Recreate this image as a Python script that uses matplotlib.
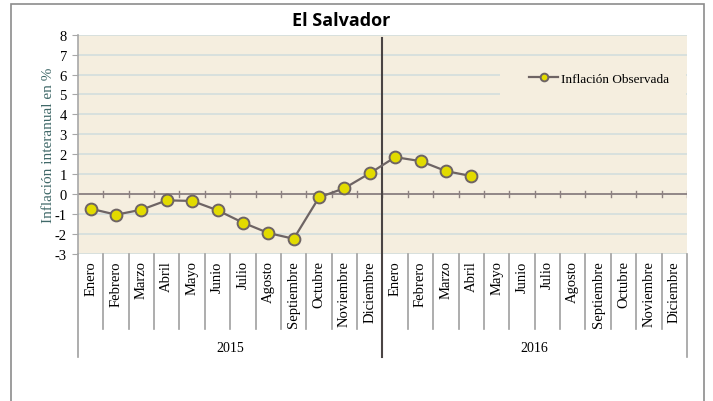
import numpy as np
import matplotlib
matplotlib.use("Agg")
import matplotlib.pyplot as plt
import matplotlib.transforms as mtransforms

meses = ["Enero", "Febrero", "Marzo", "Abril", "Mayo", "Junio", "Julio",
         "Agosto", "Septiembre", "Octubre", "Noviembre", "Diciembre"]
anios = ["2015", "2016"]
inflacion_2015 = [-0.74, -1.04, -0.79, -0.32, -0.35, -0.82, -1.44, -1.96,
                  -2.25, -0.17, 0.29, 1.04]
inflacion_2016 = [1.85, 1.65, 1.15, 0.90]

etiquetas = meses * len(anios)
valores = inflacion_2015 + inflacion_2016
n = len(etiquetas)
pos = np.arange(n)
x = pos[:len(valores)]

serif = "Liberation Serif"
bg = "#F5EEDF"
grid_c = "#D3DEDD"

fig = plt.figure(figsize=(7.13, 4.02), dpi=100)
ax = fig.add_axes([0.1094, 0.3664, 0.8541, 0.5448])
ax.set_facecolor(bg)

ax.set_xlim(-0.5, n - 0.5)
ax.set_ylim(-3, 8)
ax.set_yticks(np.arange(-3, 9, 1))
ax.set_yticklabels([str(v) for v in range(-3, 9)], fontfamily=serif, fontsize=10.5)
ax.yaxis.grid(True, color=grid_c, lw=1.2)
ax.set_axisbelow(True)

for s in ["top", "right", "bottom"]:
    ax.spines[s].set_visible(False)
ax.spines["left"].set_color("#A8A8A8")
ax.spines["left"].set_linewidth(1.2)
ax.tick_params(axis="y", length=4, color="#A8A8A8", pad=4)

# eje horizontal en cero con marcas entre categorias
ax.axhline(0, color="#8C8080", lw=1.3, zorder=2)
bordes = np.arange(n + 1) - 0.5
ax.set_xticks([])
trans = mtransforms.blended_transform_factory(ax.transData, ax.transAxes)
y0 = 3 / 11
for b in bordes[1:]:
    ax.plot([b, b], [y0 - 0.012, y0 + 0.012], color="#8C8080", lw=1, transform=trans, zorder=2)

# separadores de categorias y anios bajo el grafico
for i, b in enumerate(bordes):
    largo = 0.47 if i % len(meses) == 0 else 0.345
    ax.plot([b, b], [0, -largo], color="#A0A0A0", lw=1.2, transform=trans, clip_on=False)
for i, lab in enumerate(etiquetas):
    ax.text(pos[i], -0.03, lab, rotation=90, ha="center", va="top", fontsize=10.5,
            fontfamily=serif, transform=trans)
for j, a in enumerate(anios):
    ax.text(j * len(meses) + (len(meses) - 1) / 2, -0.43, a, ha="center", va="center",
            fontsize=10, fontfamily=serif, transform=trans)

# division entre anios
div = len(meses) - 0.5
ax.plot([div, div], [-0.47, 0.985], color="#4A4444", lw=1.5, transform=trans,
        clip_on=False, zorder=3)

ax.plot(x, valores, color="#6E6464", lw=1.6, marker="o", markersize=8.5,
        markerfacecolor="#E2DB00", markeredgecolor="#6E6464", markeredgewidth=1.4,
        label="Inflación Observada", zorder=4)

# fondo de la leyenda (tapa la reticula)
ax.add_patch(plt.Rectangle((0.693, 0.71), 0.305, 0.185, transform=ax.transAxes,
                           facecolor=bg, edgecolor="none", zorder=1))
leg = ax.legend(loc="center left", bbox_to_anchor=(0.741, 0.798), frameon=False,
                prop={"family": serif, "size": 9.5}, markerscale=0.65,
                handlelength=2.2, handletextpad=0.2, borderpad=0, borderaxespad=0)

ax.set_ylabel("Inflación interanual en %", fontfamily=serif, fontsize=11,
              color="#3F6868", labelpad=0)

fig.text(0.478, 0.948, "El Salvador", ha="center", va="center", fontsize=13,
         fontweight="bold", fontfamily="Open Sans")

# marco exterior
fig.add_artist(plt.Rectangle((0.0155, -0.3), 0.972, 1.288, transform=fig.transFigure,
                             fill=False, edgecolor="#8C8C8C", lw=1.2))

fig.savefig("out.png", dpi=100)
